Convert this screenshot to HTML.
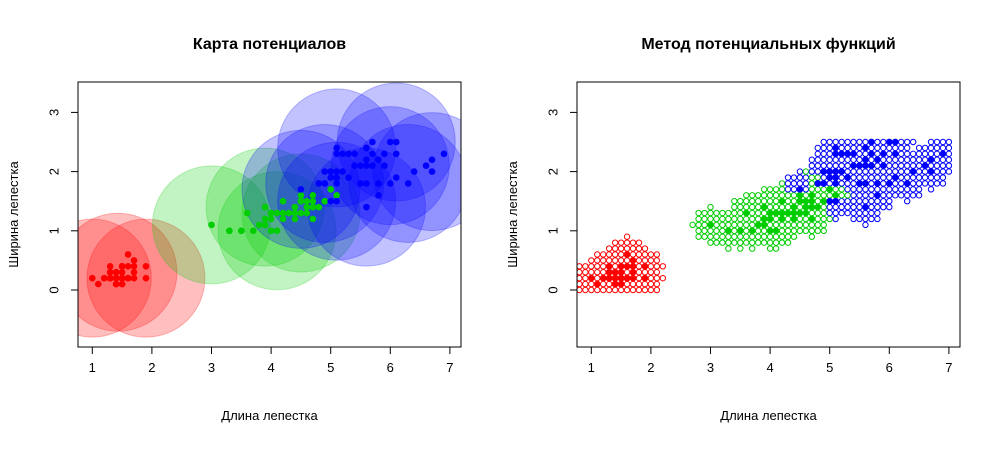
<!DOCTYPE html>
<html><head><meta charset="utf-8"><style>
body{margin:0;background:#fff;}
svg text{font-family:"Liberation Sans",sans-serif;}
</style></head><body>
<svg id="chart" width="997" height="446" viewBox="0 0 997 446" xmlns="http://www.w3.org/2000/svg"></svg>
<script>
const setosaL=[1.4,1.4,1.3,1.5,1.4,1.7,1.4,1.5,1.4,1.5,1.5,1.6,1.4,1.1,1.2,1.5,1.3,1.4,1.7,1.5,1.7,1.5,1.0,1.7,1.9,1.6,1.6,1.5,1.4,1.6,1.6,1.5,1.5,1.4,1.5,1.2,1.3,1.4,1.3,1.5,1.3,1.3,1.3,1.6,1.9,1.4,1.6,1.4,1.5,1.4];
const setosaW=[0.2,0.2,0.2,0.2,0.2,0.4,0.3,0.2,0.2,0.1,0.2,0.2,0.1,0.1,0.2,0.4,0.4,0.3,0.3,0.3,0.2,0.4,0.2,0.5,0.2,0.2,0.4,0.2,0.2,0.2,0.2,0.4,0.1,0.2,0.2,0.2,0.2,0.1,0.2,0.2,0.3,0.3,0.2,0.6,0.4,0.3,0.2,0.2,0.2,0.2];
const versL=[4.7,4.5,4.9,4.0,4.6,4.5,4.7,3.3,4.6,3.9,3.5,4.2,4.0,4.7,3.6,4.4,4.5,4.1,4.5,3.9,4.8,4.0,4.9,4.7,4.3,4.4,4.8,5.0,4.5,3.5,3.8,3.7,3.9,5.1,4.5,4.5,4.7,4.4,4.1,4.0,4.4,4.6,4.0,3.3,4.2,4.2,4.2,4.3,3.0,4.1];
const versW=[1.4,1.5,1.5,1.3,1.5,1.3,1.6,1.0,1.3,1.4,1.0,1.5,1.0,1.4,1.3,1.4,1.5,1.0,1.5,1.1,1.8,1.3,1.5,1.2,1.3,1.4,1.4,1.7,1.5,1.0,1.1,1.0,1.2,1.6,1.5,1.6,1.5,1.3,1.3,1.3,1.2,1.4,1.2,1.0,1.3,1.2,1.3,1.3,1.1,1.3];
const virgL=[6.0,5.1,5.9,5.6,5.8,6.6,4.5,6.3,5.8,6.1,5.1,5.3,5.5,5.0,5.1,5.3,5.5,6.7,6.9,5.0,5.7,4.9,6.7,4.9,5.7,6.0,4.8,4.9,5.6,5.8,6.1,6.4,5.6,5.1,5.6,6.1,5.6,5.5,4.8,5.4,5.6,5.1,5.1,5.9,5.7,5.2,5.0,5.2,5.4,5.1];
const virgW=[2.5,1.9,2.1,1.8,2.2,2.1,1.7,1.8,1.8,2.5,2.0,1.9,2.1,2.0,2.4,2.3,1.8,2.2,2.3,1.5,2.3,2.0,2.0,1.8,2.1,1.8,1.8,1.8,2.1,1.6,1.9,2.0,2.2,1.5,1.4,2.3,2.4,1.8,1.8,2.1,2.4,2.3,1.9,2.3,2.5,2.3,1.9,2.0,2.3,1.8];
// potential centers (left panel)
const redCentersL=[1.0,1.9,1.43];
const redCentersW=[0.2,0.2,0.3];
const greenCentersL=[3.0,3.9,4.1,4.5];
const greenCentersW=[1.1,1.4,1.0,1.3];
const blueCentersL=[4.5,4.9,5.1,5.6,6.1,6.0,6.3,6.7,5.1];
const blueCentersW=[1.7,1.8,1.5,1.4,2.5,2.1,1.8,2.0,2.4];
const xTicks=[1,2,3,4,5,6,7];
const yTicks=[0,1,2,3];

const NS="http://www.w3.org/2000/svg";
const svg=document.getElementById('chart');
function mk(tag,attrs,parent){const e=document.createElementNS(NS,tag);for(const k in attrs)e.setAttribute(k,attrs[k]);(parent||svg).appendChild(e);return e;}
const classes=[{L:setosaL,W:setosaW,c:'#ff0000',f:'rgba(255,0,0,0.25)'},{L:versL,W:versW,c:'#00cd00',f:'rgba(0,205,0,0.24)'},{L:virgL,W:virgW,c:'#0000ff',f:'rgba(0,0,255,0.24)'}];

function panel(off,title,name,mode){
  const g=mk('g',{});
  
  
  const left=78+off,right=461+off,top=82,bottom=347;
  const sx=v=>92.3+off+(v-1)*59.6;
  const sy=v=>290-v*59.2;
  const cid='clip'+off;
  const cp=mk('clipPath',{id:cid},g);mk('rect',{x:left,y:top,width:right-left,height:bottom-top},cp);
  const plot=mk('g',{'clip-path':'url(#'+cid+')'},g);
  
  
  if(mode==='circles'){
    const sets=[[redCentersL,redCentersW,classes[0].f],[greenCentersL,greenCentersW,classes[1].f],[blueCentersL,blueCentersW,classes[2].f]];
    sets.forEach(s=>{for(let i=0;i<s[0].length;i++){const c=mk('circle',{cx:sx(s[0][i]),cy:sy(s[1][i]),r:59,fill:s[2],stroke:s[2]},plot);
      
      }});
  } else {
    for(let gx=8;gx<=70;gx++){for(let gy=0;gy<=25;gy++){
      const x=gx/10,y=gy/10;let best=1e9,bc=-1;
      classes.forEach((cl,ci)=>{for(let i=0;i<cl.L.length;i++){const d=Math.hypot(cl.L[i]-x,cl.W[i]-y);if(d<best){best=d;bc=ci;}}});
      if(best<=0.31){const c=mk('circle',{cx:sx(x),cy:sy(y),r:2.7,fill:'none',stroke:classes[bc].c,'stroke-width':1},plot);
        
        }
    }}
  }
  classes.forEach(cl=>{for(let i=0;i<cl.L.length;i++){const c=mk('circle',{cx:sx(cl.L[i]),cy:sy(cl.W[i]),r:3.3,fill:cl.c},plot);
    
    }});
  const box=mk('rect',{x:left,y:top,width:right-left,height:bottom-top,fill:'none',stroke:'#000','stroke-width':1},g);
  
  
  mk('line',{x1:sx(1),x2:sx(7),y1:bottom,y2:bottom,stroke:'#000'},g);
  xTicks.forEach(t=>{mk('line',{x1:sx(t),x2:sx(t),y1:bottom,y2:bottom+7,stroke:'#000'},g);
    const tx=mk('text',{x:sx(t),y:bottom+25,'text-anchor':'middle','font-size':13},g);tx.textContent=t;
    
    });
  mk('line',{x1:left,x2:left,y1:sy(0),y2:sy(3),stroke:'#000'},g);
  yTicks.forEach(t=>{mk('line',{x1:left,x2:left-7,y1:sy(t),y2:sy(t),stroke:'#000'},g);
    const tx=mk('text',{x:left-24,y:sy(t),'text-anchor':'middle','font-size':13,transform:`rotate(-90 ${left-24} ${sy(t)})`,dy:'0.35em'},g);tx.textContent=t;
    
    });
  const ti=mk('text',{x:(left+right)/2,y:49,'text-anchor':'middle','font-size':16,'font-weight':'bold'},g);ti.textContent=title;
  
  
  const xl=mk('text',{x:(left+right)/2,y:420,'text-anchor':'middle','font-size':13},g);xl.textContent='Длина лепестка';
  
  
  const yx=left-60,yy=(top+bottom)/2;
  const yl=mk('text',{x:yx,y:yy,'text-anchor':'middle','font-size':13,transform:`rotate(-90 ${yx} ${yy})`},g);yl.textContent='Ширина лепестка';
  
  
}
panel(0,'Карта потенциалов','potential-map-panel','circles');
panel(499,'Метод потенциальных функций','potential-method-panel','grid');
</script>
</body></html>
